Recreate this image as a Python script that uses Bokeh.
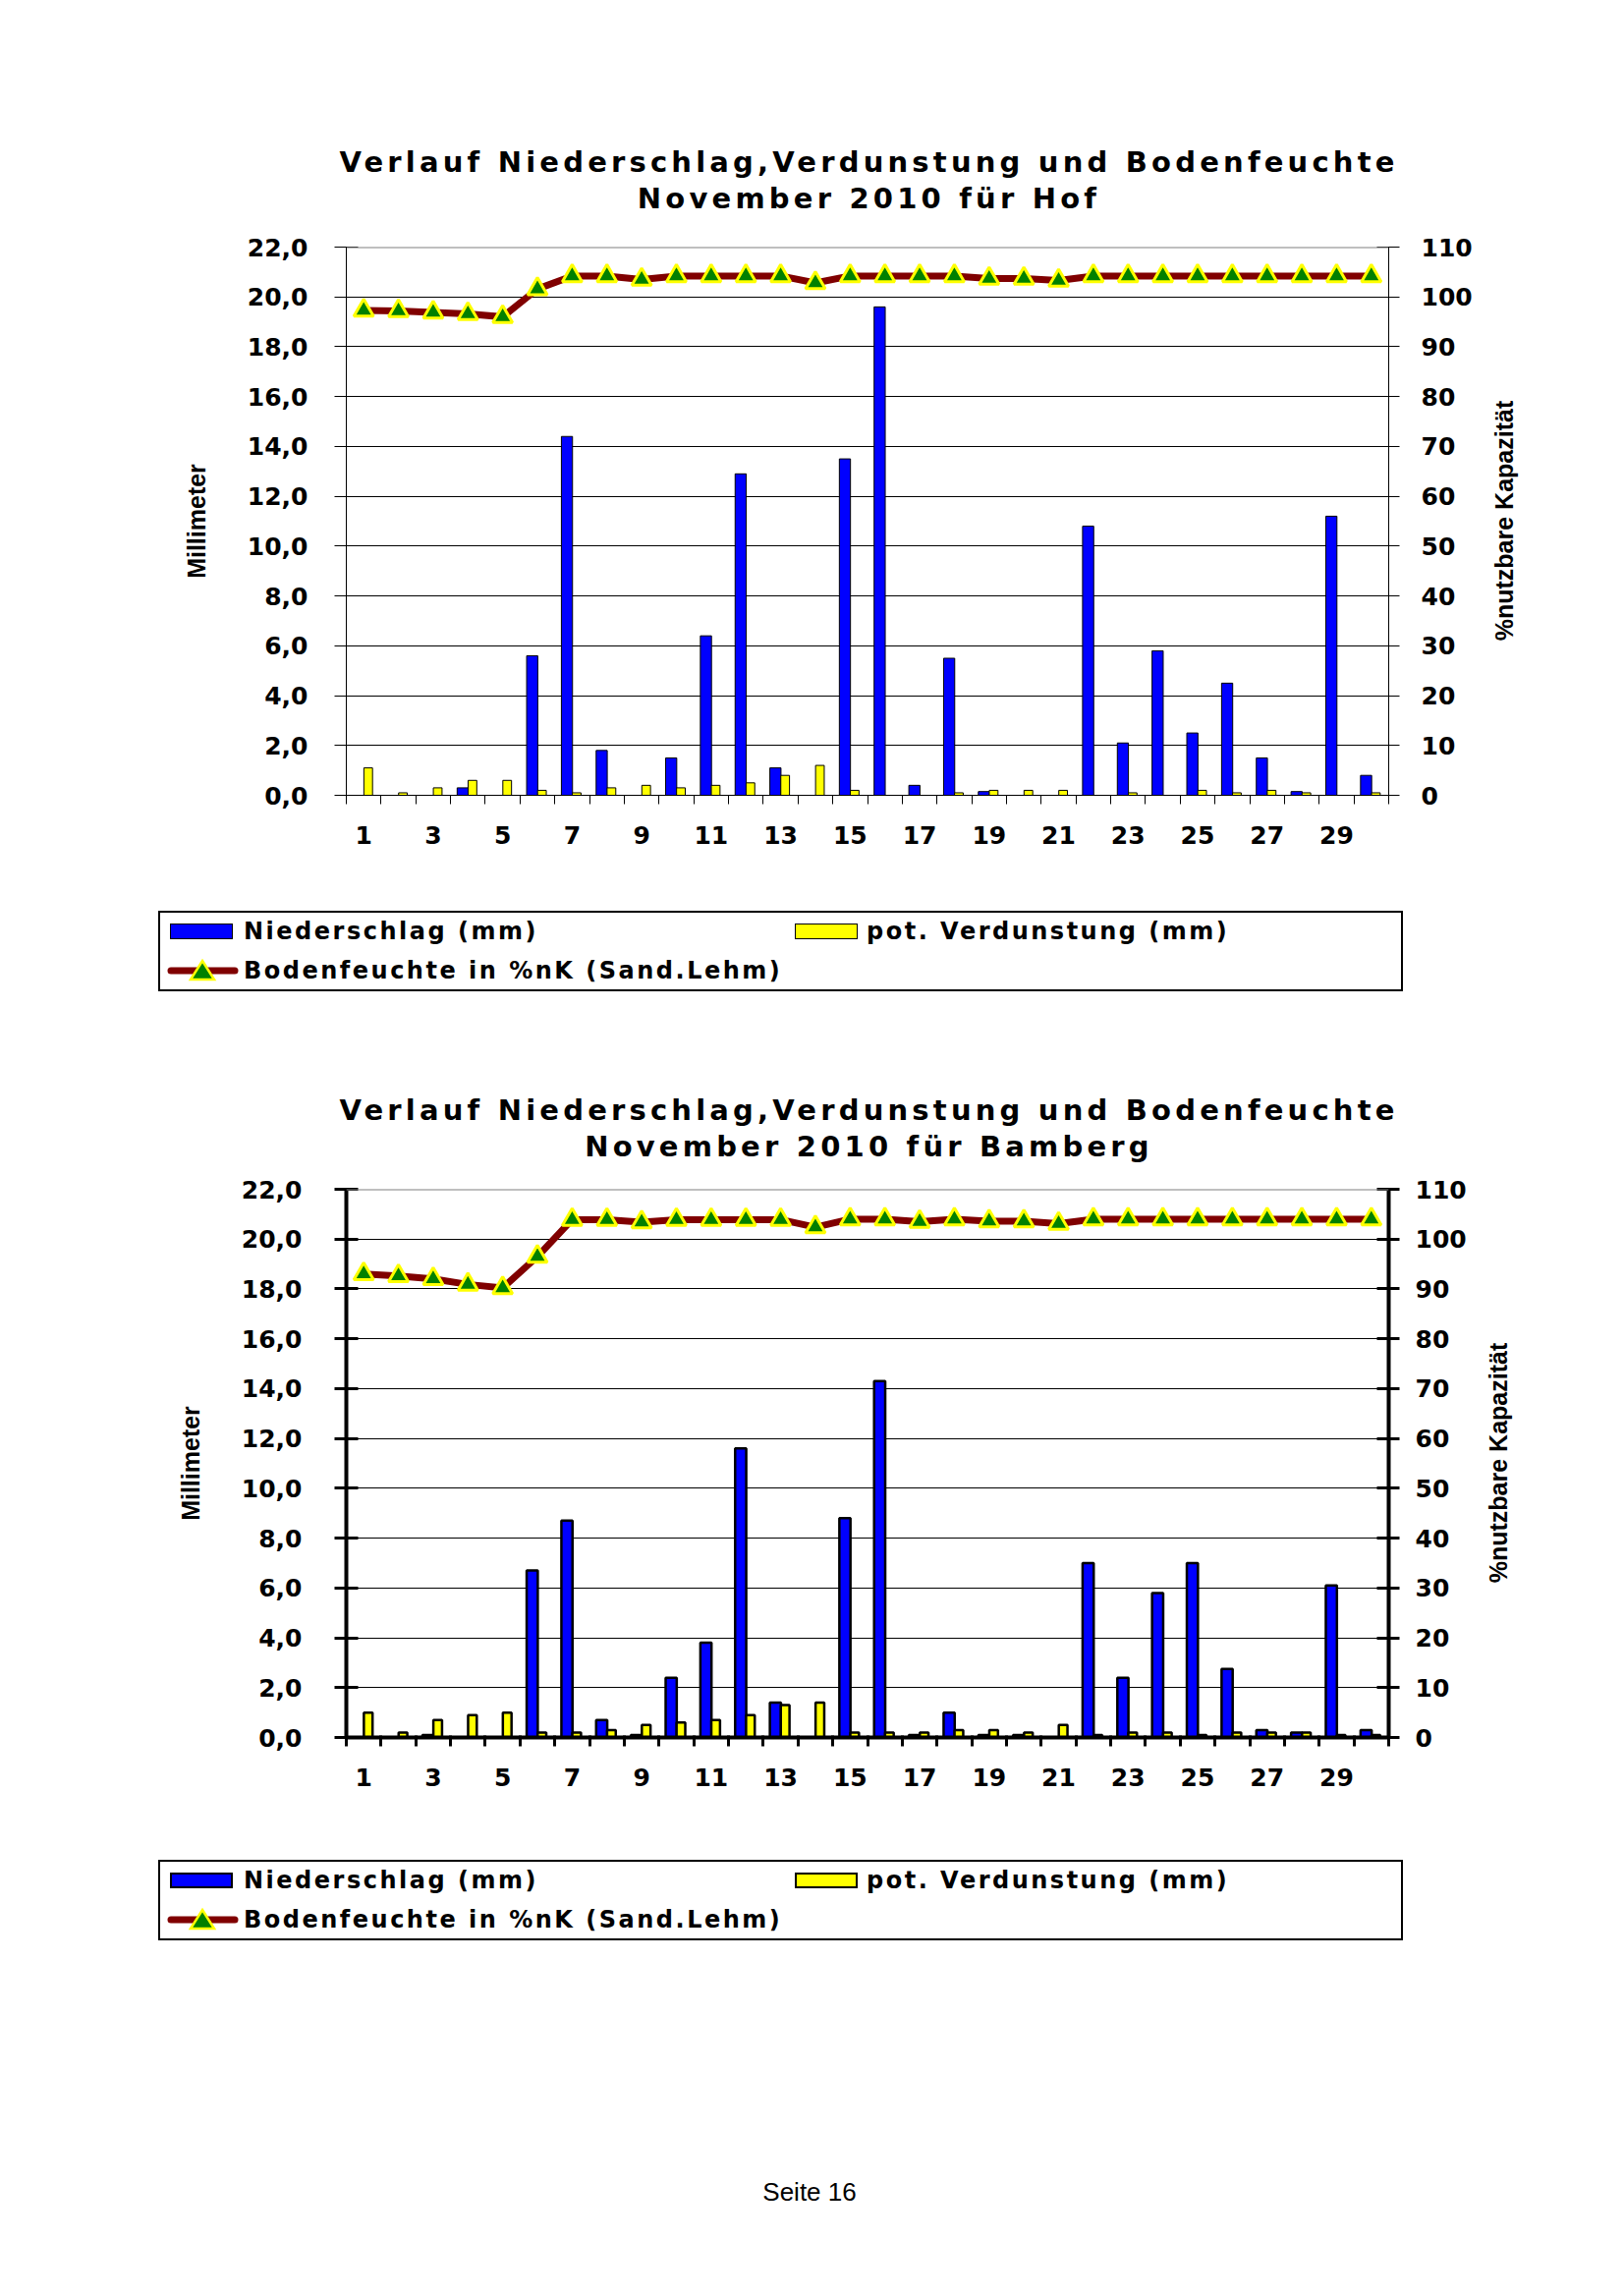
import numpy as np
from bokeh.plotting import figure
from bokeh.models import (ColumnDataSource, Range1d, LinearAxis, FixedTicker, Span, Div)
from bokeh.layouts import column
from bokeh.embed import file_html
from bokeh.resources import INLINE

# ---------------- data ----------------
days = list(range(1, 31))
x_label_days = [d for d in days if d % 2 == 1]
mm_ticks = [0, 2, 4, 6, 8, 10, 12, 14, 16, 18, 20, 22]
mm_tick_labels = ["0,0", "2,0", "4,0", "6,0", "8,0", "10,0", "12,0", "14,0", "16,0", "18,0", "20,0", "22,0"]
pct_ticks = [0, 10, 20, 30, 40, 50, 60, 70, 80, 90, 100, 110]

hof_niederschlag = [0, 0, 0, 0.3, 0, 5.6, 14.4, 1.8, 0, 1.5, 6.4, 12.9, 1.1, 0, 13.5,
                    19.6, 0.4, 5.5, 0.15, 0, 0, 10.8, 2.1, 5.8, 2.5, 4.5, 1.5, 0.15, 11.2, 0.8]
hof_verdunstung = [1.1, 0.1, 0.3, 0.6, 0.6, 0.2, 0.1, 0.3, 0.4, 0.3, 0.4, 0.5, 0.8, 1.2, 0.2,
                   0.0, 0.0, 0.1, 0.2, 0.2, 0.2, 0.0, 0.1, 0.0, 0.2, 0.1, 0.2, 0.1, 0.0, 0.1]
hof_bodenfeuchte = [97.3, 97.2, 96.9, 96.6, 96.0, 101.6, 104.2, 104.2, 103.5, 104.2, 104.2, 104.2,
                    104.2, 102.8, 104.2, 104.2, 104.2, 104.2, 103.7, 103.7, 103.3, 104.2, 104.2,
                    104.2, 104.2, 104.2, 104.2, 104.2, 104.2, 104.2]

bam_niederschlag = [0, 0, 0.1, 0, 0, 6.7, 8.7, 0.7, 0.1, 2.4, 3.8, 11.6, 1.4, 0, 8.8,
                    14.3, 0.1, 1.0, 0.1, 0.1, 0, 7.0, 2.4, 5.8, 7.0, 2.75, 0.3, 0.2, 6.1, 0.3]
bam_verdunstung = [1.0, 0.2, 0.7, 0.9, 1.0, 0.2, 0.2, 0.3, 0.5, 0.6, 0.7, 0.9, 1.3, 1.4, 0.2,
                   0.2, 0.2, 0.3, 0.3, 0.2, 0.5, 0.1, 0.2, 0.2, 0.1, 0.2, 0.2, 0.2, 0.1, 0.1]
bam_bodenfeuchte = [93.0, 92.6, 92.0, 90.9, 90.2, 96.5, 103.9, 103.9, 103.4, 103.9, 103.9, 103.9,
                    103.9, 102.4, 104.0, 104.0, 103.5, 104.0, 103.6, 103.6, 103.1, 104.0, 104.0,
                    104.0, 104.0, 104.0, 104.0, 104.0, 104.0, 104.0]

title_line1 = "Verlauf Niederschlag,Verdunstung und Bodenfeuchte"
title_hof = "November 2010 für Hof"
title_bam = "November 2010 für Bamberg"
footer_text = "Seite 16"
legend_labels = ["Niederschlag (mm)", "Bodenfeuchte in %nK (Sand.Lehm)", "pot. Verdunstung (mm)"]
y_label_left = "Millimeter"
y_label_right = "%nutzbare Kapazität"

BOLD_FONT = "DejaVu Sans"
NARROW_FONT = "Liberation Sans Narrow, Liberation Sans"
FIG_W = 1637

BLUE = "#0000FF"
YELLOW = "#FFFF00"
MAROON = "#800000"
GREEN = "#008000"

FRAME_LEFT = 352
FRAME_RIGHT = 1413
RIGHT_TITLE_START = 31   # position (on the % scale) where the right-hand axis title begins


def title_div(line2, height, pad_top):
    html = ('<div style="margin-left:124px;width:1521px;text-align:center;'
            'font-family:\'DejaVu Sans\';font-weight:bold;font-size:29px;line-height:37px;'
            'letter-spacing:4.2px;color:black;padding-top:%dpx;white-space:nowrap;">%s<br>%s</div>'
            % (pad_top, title_line1, line2))
    return Div(text=html, width=FIG_W, height=height, margin=0)


def style(heavy):
    return dict(axis_w=4 if heavy else 1, tick_w=3 if heavy else 1, bar_lw=2.5 if heavy else 1,
                swatch_bw=2 if heavy else 1)


def legend_div(height, box_top, heavy):
    """Legend box below a chart; box_top is relative to the top of this block."""
    st = style(heavy)
    bw = st["swatch_bw"]
    txt = ("position:absolute;font-family:'DejaVu Sans';font-weight:bold;font-size:24px;"
           "letter-spacing:2.5px;line-height:30px;color:black;white-space:nowrap;")
    r1 = box_top + 21   # centre of first row
    r2 = box_top + 61   # centre of second row
    parts = [
        '<div style="position:relative;width:%dpx;height:%dpx;">' % (FIG_W, height),
        '<div style="position:absolute;left:161px;top:%dpx;width:1267px;height:82px;'
        'box-sizing:border-box;border:2px solid black;background:white;"></div>' % box_top,
        '<div style="position:absolute;left:173px;top:%dpx;width:64px;height:16px;'
        'box-sizing:border-box;border:%dpx solid black;background:%s;"></div>' % (r1 - 8, bw, BLUE),
        '<div style="%sleft:248px;top:%dpx;">%s</div>' % (txt, r1 - 15, legend_labels[0]),
        '<svg style="position:absolute;left:170px;top:%dpx;" width="74" height="26">'
        '<line x1="4" y1="13" x2="69" y2="13" stroke="%s" stroke-width="7" stroke-linecap="round"/>'
        '<polygon points="36,3 48,22 24,22" fill="%s" stroke="%s" stroke-width="2.5"/></svg>'
        % (r2 - 13, MAROON, GREEN, YELLOW),
        '<div style="%sleft:248px;top:%dpx;">%s</div>' % (txt, r2 - 15, legend_labels[1]),
        '<div style="position:absolute;left:809px;top:%dpx;width:64px;height:16px;'
        'box-sizing:border-box;border:%dpx solid black;background:%s;"></div>' % (r1 - 8, bw, YELLOW),
        '<div style="%sleft:882px;top:%dpx;">%s</div>' % (txt, r1 - 15, legend_labels[2]),
        '</div>',
    ]
    return Div(text="".join(parts), width=FIG_W, height=height, margin=0)


def make_chart(nied, verd, boden, height, b_top, b_bottom, heavy,
               mm_standoff, pct_standoff, left_lab_standoff, right_lab_standoff):
    b_left = FRAME_LEFT
    b_right = FIG_W - FRAME_RIGHT
    st = style(heavy)

    p = figure(width=FIG_W, height=height, x_range=Range1d(0.5, 30.5), y_range=Range1d(0, 22),
               output_backend="svg", toolbar_location=None, title=None, margin=0,
               min_border_left=b_left, min_border_right=b_right,
               min_border_top=b_top, min_border_bottom=b_bottom)
    p.outline_line_color = None
    p.background_fill_color = "white"
    p.border_fill_color = "white"

    # grid
    p.xgrid.visible = False
    p.ygrid.ticker = FixedTicker(ticks=mm_ticks[:-1])
    p.ygrid.grid_line_color = "black"
    p.ygrid.grid_line_width = 1
    p.add_layout(Span(location=mm_ticks[-1], dimension="width", line_color="#808080", line_width=2))

    # x axis
    xa = p.xaxis[0]
    xa.ticker = FixedTicker(ticks=x_label_days, minor_ticks=[d - 0.5 for d in days] + [days[-1] + 0.5])
    xa.major_tick_out = 0
    xa.major_tick_in = 0
    xa.minor_tick_out = 9
    xa.minor_tick_in = 2 if heavy else 0
    xa.minor_tick_line_color = "black"
    xa.minor_tick_line_width = st["tick_w"]
    xa.axis_line_color = "black"
    xa.axis_line_width = st["axis_w"]
    xa.major_label_standoff = 22
    xa.major_label_text_font = BOLD_FONT
    xa.major_label_text_font_style = "bold"
    xa.major_label_text_font_size = "25px"
    xa.major_label_text_color = "black"

    # left axis
    ya = p.yaxis[0]
    ya.ticker = FixedTicker(ticks=mm_ticks)
    ya.major_label_overrides = {t: lab for t, lab in zip(mm_ticks, mm_tick_labels)}
    ya.minor_tick_line_color = None
    ya.major_tick_out = 12
    ya.major_tick_in = 12
    ya.major_tick_line_width = st["tick_w"]
    ya.major_tick_line_color = "black"
    ya.axis_line_width = st["axis_w"]
    ya.axis_line_color = "black"
    ya.major_label_standoff = left_lab_standoff
    ya.major_label_text_font = BOLD_FONT
    ya.major_label_text_font_style = "bold"
    ya.major_label_text_font_size = "25px"
    ya.major_label_text_color = "black"
    ya.axis_label = y_label_left
    ya.axis_label_standoff = mm_standoff
    ya.axis_label_text_font = NARROW_FONT
    ya.axis_label_text_font_style = "bold"
    ya.axis_label_text_font_size = "25px"
    ya.axis_label_text_color = "black"

    # right axis (percent of usable capacity)
    p.extra_y_ranges = {"pct": Range1d(0, 110)}
    ra = LinearAxis(y_range_name="pct", ticker=FixedTicker(ticks=pct_ticks))
    ra.minor_tick_line_color = None
    ra.major_tick_out = 11
    ra.major_tick_in = 12
    ra.major_tick_line_width = st["tick_w"]
    ra.major_tick_line_color = "black"
    ra.axis_line_width = st["axis_w"]
    ra.axis_line_color = "black"
    ra.major_label_standoff = right_lab_standoff
    ra.major_label_text_font = BOLD_FONT
    ra.major_label_text_font_style = "bold"
    ra.major_label_text_font_size = "25px"
    ra.major_label_text_color = "black"
    p.add_layout(ra, "right")

    # title of the right axis, reading bottom-to-top as in the original
    ra2 = LinearAxis(y_range_name="pct", ticker=FixedTicker(ticks=[RIGHT_TITLE_START]))
    ra2.major_label_overrides = {RIGHT_TITLE_START: y_label_right}
    ra2.major_label_orientation = np.pi / 2
    ra2.axis_line_color = None
    ra2.major_tick_line_color = None
    ra2.minor_tick_line_color = None
    ra2.major_tick_out = 0
    ra2.major_tick_in = 0
    ra2.minor_tick_out = 0
    ra2.major_label_standoff = pct_standoff
    ra2.major_label_text_font = NARROW_FONT
    ra2.major_label_text_font_style = "bold"
    ra2.major_label_text_font_size = "25px"
    ra2.major_label_text_color = "black"
    p.add_layout(ra2, "right")

    src = ColumnDataSource(dict(
        day=days, nied=nied, verd=verd, boden=boden,
        x_n=[d - 0.15 for d in days], x_v=[d + 0.13 for d in days]))

    p.vbar(x="x_n", top="nied", bottom=0, width=0.32, source=src, legend_label=legend_labels[0],
           fill_color=BLUE, line_color="black", line_width=st["bar_lw"])
    p.vbar(x="x_v", top="verd", bottom=0, width=0.25, source=src, legend_label=legend_labels[2],
           fill_color=YELLOW, line_color="black", line_width=st["bar_lw"])
    p.line(x="day", y="boden", source=src, y_range_name="pct", legend_label=legend_labels[1],
           line_color=MAROON, line_width=7)
    p.scatter(x="day", y="boden", source=src, y_range_name="pct", marker="triangle",
              legend_label=legend_labels[1],
              size=20, fill_color=GREEN, line_color=YELLOW, line_width=3)
    # the visible legend box is drawn below the chart (outside the frame)
    p.legend.visible = False
    return p


# page layout (top to bottom, page y in comments)
d1 = title_div(title_hof, height=226, pad_top=147)                      # 0 .. 226
p1 = make_chart(hof_niederschlag, hof_verdunstung, hof_bodenfeuchte,
                height=653, b_top=25, b_bottom=70, heavy=False,
                mm_standoff=35, pct_standoff=30,
                left_lab_standoff=27, right_lab_standoff=22)            # 226 .. 879 (frame 251..809)
l1 = legend_div(height=171, box_top=927 - 879, heavy=False)             # 879 .. 1050
d2 = title_div(title_bam, height=135, pad_top=62)                       # 1050 .. 1185
p2 = make_chart(bam_niederschlag, bam_verdunstung, bam_bodenfeuchte,
                height=653, b_top=25, b_bottom=70, heavy=True,
                mm_standoff=35, pct_standoff=30,
                left_lab_standoff=33, right_lab_standoff=16)            # 1185 .. 1838 (frame 1210..1768)
l2 = legend_div(height=162, box_top=1893 - 1838, heavy=True)            # 1838 .. 2000
foot = Div(text=('<div style="width:1648px;text-align:center;font-family:\'Liberation Sans\';'
                 'font-size:26px;line-height:30px;color:black;padding-top:216px;">%s</div>'
                 % footer_text), width=FIG_W, height=260, margin=0)     # 2000 .. 2260

layout = column(d1, p1, l1, d2, p2, l2, foot, spacing=0)
open("out.html", "w").write(file_html(layout, INLINE))
